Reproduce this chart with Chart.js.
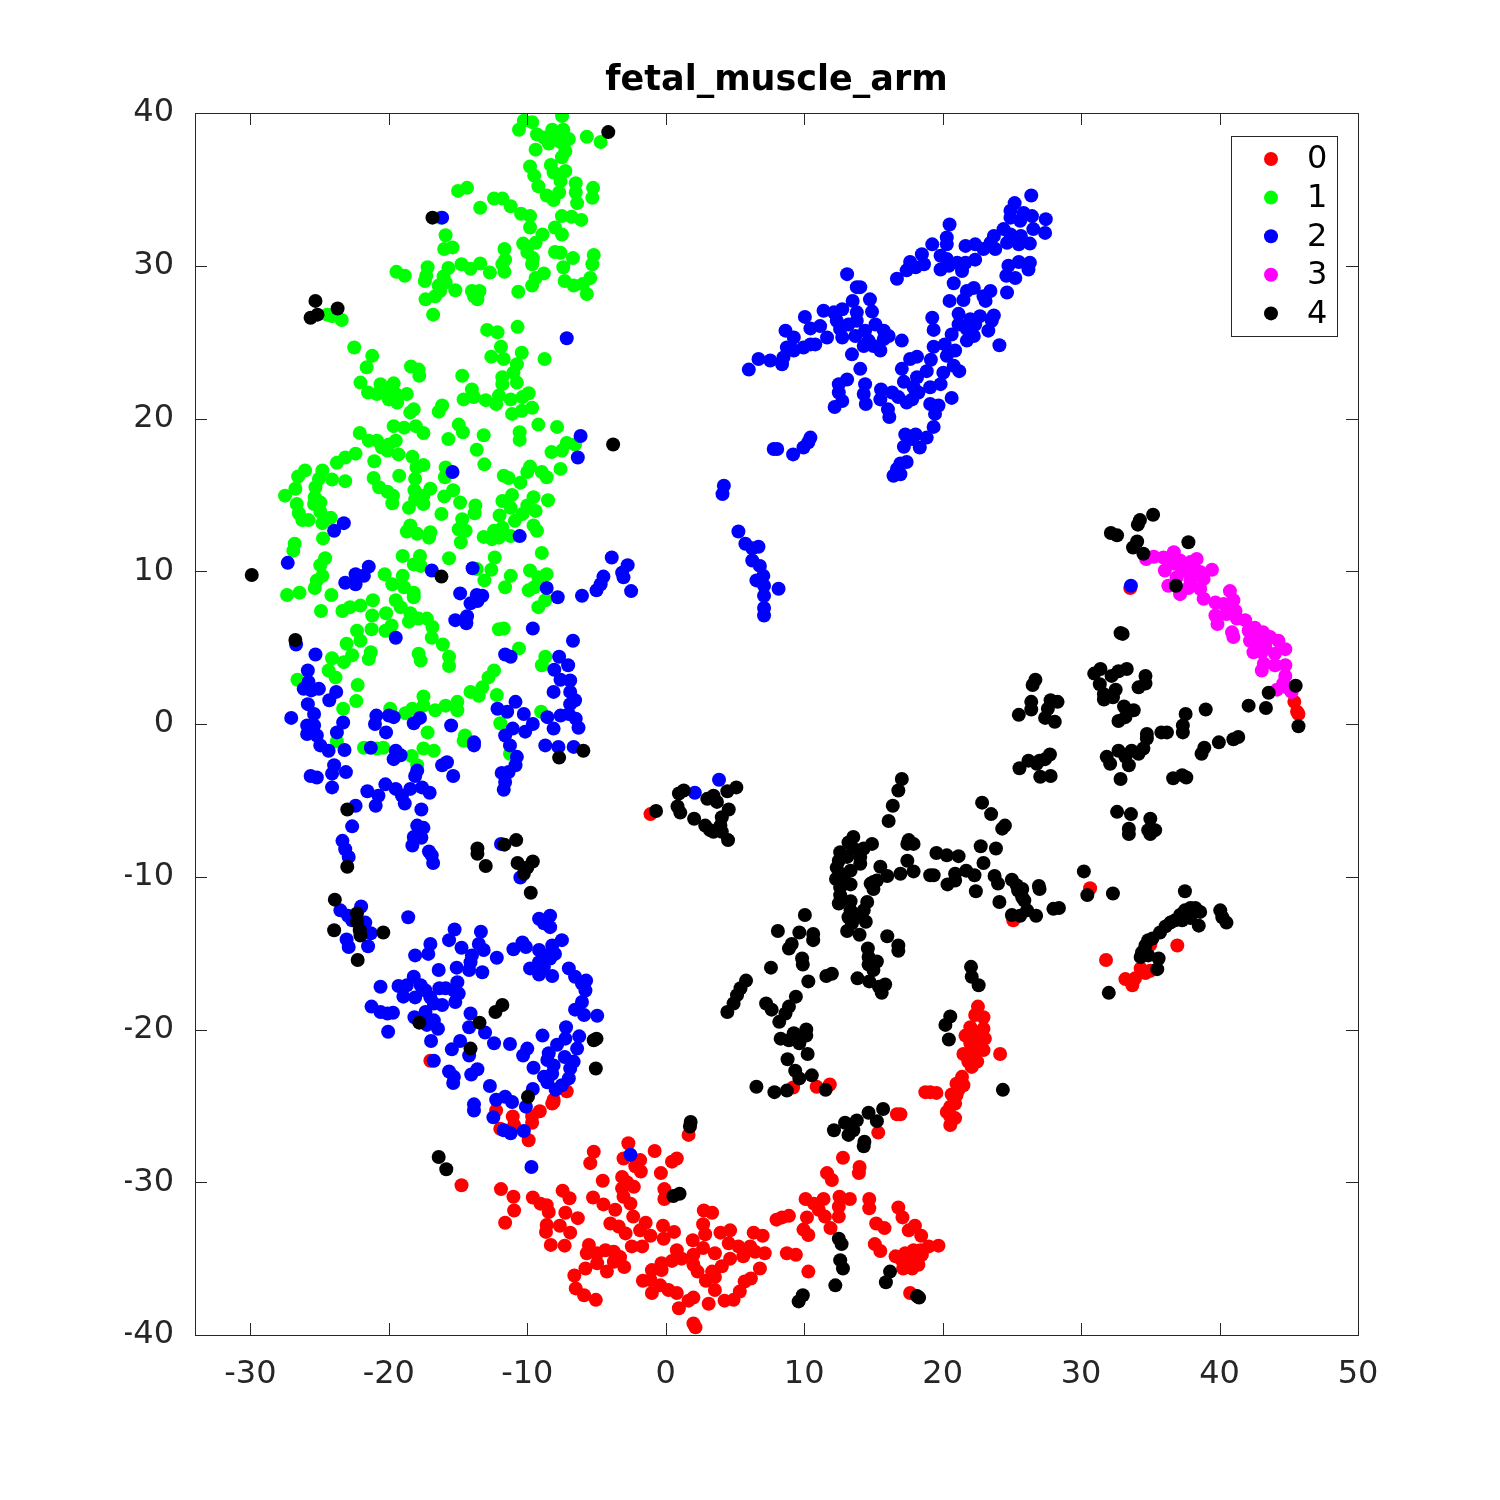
<!DOCTYPE html>
<html>
<head>
<meta charset="utf-8">
<title>fetal_muscle_arm</title>
<script src="https://cdn.jsdelivr.net/npm/chart.js@4/dist/chart.umd.min.js"></script>
<style>
  html, body { margin: 0; background: #fff; }
  #chart { display: block; }
</style>
</head>
<body>
<canvas id="chart" width="1500" height="1500"></canvas>
<script>
const chartTitle = 'fetal_muscle_arm';
const seriesNames = ['0', '1', '2', '3', '4'];
const seriesColors = ['#ff0000', '#00ff00', '#0000ff', '#ff00ff', '#000000'];
const xTicks = [-30, -20, -10, 0, 10, 20, 30, 40, 50];
const yTicks = [-40, -30, -20, -10, 0, 10, 20, 30, 40];

// values, [x, y]
const class0 = [
  [-1.1,-5.9],[33.55,8.9],[45.4,1.45],[45.6,0.8],[45.7,0.65],[9.2,-23.8],[10.9,-23.75],[11.85,-23.6],[25.1,-12.85],
  [22.55,-18.5],[22.35,-19.05],[22.95,-19.2],[22,-19.85],[22.95,-19.95],[21.65,-20.4],[22.35,-20.4],[23.05,-20.6],
  [22,-20.9],[22.6,-21.15],[22.95,-21.35],[21.5,-21.6],[22.25,-21.6],[24.15,-21.6],[21.85,-22.1],[22.5,-22.1],[22.1,-22.45],
  [21.4,-23.1],[21,-23.55],[21.5,-23.65],[21.15,-23.95],[18.75,-24.1],[19.55,-24.15],[19.1,-24.1],[20.65,-24.25],
  [16.95,-25.55],[16.7,-25.55],[15.35,-26.75],[20.55,-25.05],[20.55,-25.7],[20.3,-25.4],[20.9,-24.85],[20.55,-26.25],[20.9,-25.8],[21,-24.3],
  [30.65,-10.75],[31.8,-15.45],[33.2,-16.7],[33.7,-17.1],[33.9,-16.65],[34.65,-16.3],[35,-16.15],[34.3,-16],[35,-14.45],[36.95,-14.5],
  [-17,-22.05],[-7.15,-24.05],[-8.1,-24.6],[-8.2,-24.85],[-9.1,-25.35],[-9.65,-25.7],[-9.65,-26.1],[-11.05,-25.7],[-12.25,-25.3],
  [-11.95,-26.5],[-10.95,-26.25],[-9.9,-27.25],[-14.75,-30.2],[-8.1,-24.75],[1.65,-26.9],[-2.7,-27.45],[-5.2,-28],[-5.45,-28.75],
  [-3.05,-28.45],[-0.8,-27.95],[0.8,-28.45],[0.45,-28.65],[-1.85,-28.55],[-2.2,-28.95],[-1.8,-29.3],[-0.35,-29.4],[-4.55,-29.9],
  [-3.15,-29.65],[-2.8,-30],[-2.3,-30.3],[-3.15,-30.4],[-0.1,-30.45],[-0.1,-31.1],[-11.9,-30.45],[-11,-30.95],[-10.95,-31.85],
  [-11.6,-32.65],[-9.6,-31],[-9.05,-31.4],[-8.6,-31.5],[-8.45,-31.95],[-7.45,-30.55],[-6.95,-31.05],[-7.25,-32],[-6.35,-32.35],
  [-5.25,-31],[-4.5,-31.45],[-3.65,-31.8],[-3.05,-30.95],[-2.55,-31.4],[-2.35,-32.25],[-8.6,-32.8],[-8.65,-33.25],[-7.65,-32.85],
  [-6.9,-33.3],[-8.3,-34.1],[-7.3,-34.15],[-4,-32.7],[-3.4,-32.9],[-2.9,-33.35],[-1.45,-32.65],[-1.85,-33.15],[-1.1,-33.5],
  [-1.7,-34.2],[-2.45,-34.2],[-0.2,-32.85],[0.6,-33.25],[-0.15,-33.7],[1.95,-33.8],[2.75,-31.85],[3.35,-32],[2.7,-32.75],[2.85,-33.4],
  [3.95,-33.3],[4.65,-33.15],[6.35,-33.3],[7,-33.5],[2.7,-34.3],[4.55,-34],[5.25,-34.2],[6.1,-34.2],[3.55,-34.65],[6.45,-34.55],
  [7.15,-34.65],[5.6,-34.85],[4.65,-35],[-5.55,-34.1],[-5.7,-34.65],[-4.95,-34.65],[-4.35,-34.45],[-3.75,-34.55],[-3.3,-34.9],
  [-4.95,-35.3],[-4.25,-35.85],[-3.75,-35.2],[-3,-35.55],[-5.8,-35.65],[-6.6,-36.1],[-6.5,-36.95],[-5.9,-37.4],[-5.05,-37.7],
  [0.8,-34.45],[1.15,-35],[2,-34.75],[0.45,-35.15],[-0.3,-35.3],[2,-35.4],[2.3,-35.85],[-1,-35.75],[-0.3,-35.75],[-1.65,-36.45],
  [-1.1,-36.4],[-0.4,-36.75],[-1,-37.25],[0.2,-37.05],[0.8,-37.25],[0.95,-38.25],[1.65,-37.75],[2,-37.55],[3.55,-37.05],[2.9,-36.45],
  [3.55,-36.2],[4.05,-35.5],[3.35,-35.85],[3.1,-37.95],[4.25,-37.75],[4.9,-37.7],[5.35,-37.15],[5.7,-36.5],[6.15,-36.3],[6.8,-35.65],
  [10.3,-35.85],[8.75,-34.65],[9.4,-34.75],[8,-32.45],[8.9,-32.2],[8.4,-32.3],[10.1,-31.1],[10.7,-31.4],[11.4,-31.1],[11.05,-31.8],
  [10.2,-32.3],[11.5,-32.25],[9.95,-33.1],[10.3,-33.45],[11.9,-33],[12.5,-32.25],[12.55,-30.95],[13.3,-31.1],[12.5,-31.6],[11.65,-29.4],
  [12,-29.85],[12.8,-28.4],[14,-29],[13.95,-29.4],[14.7,-31.1],[14.7,-31.7],[15.2,-32.7],[15.8,-33],[15.1,-34.05],[15.5,-34.5],
  [16.8,-31.65],[17.1,-32.3],[18,-32.85],[17.55,-33.15],[18.45,-33.5],[19.7,-34.15],[19,-34.2],[18.4,-34.45],[17.9,-34.45],[17.3,-34.65],
  [16.6,-34.85],[17.05,-35.1],[17.9,-35],[18.5,-34.75],[17.15,-35.65],[17.8,-35.65],[18.25,-35.4],[17.65,-37.25],[2,-39.25],[2.15,-39.5]
];
const class1 = [
  [-7.49,39.8],[-10.25,39.5],[-9.65,39.4],[-10.6,38.9],[-8.2,38.9],[-7.4,38.9],[-7,38.3],[-9.3,38.6],[-8.8,38.4],[-8.1,38.4],[-7.6,38.1],
  [-9.4,37.6],[-8.45,38],[-5.7,38.45],[-4.7,38.1],[-7.5,37.1],[-7.25,37.5],[-9.8,36.5],[-8.3,36.6],[-7.25,36.2],[-8.1,36.1],[-9.5,35.9],
  [-9.2,35.2],[-7.6,35.55],[-6.5,35.4],[-5.25,35.1],[-5.3,34.45],[-6.5,34.8],[-6.4,34.1],[-7.7,34.8],[-8.6,34.6],[-8.1,34.3],[-15,34.9],
  [-14.35,35.1],[-13.4,33.8],[-12.4,34.4],[-11.8,34.4],[-11.2,33.9],[-10.45,33.4],[-9.8,33.25],[-9.8,32.5],[-8.9,32.05],[-9.4,31.5],
  [-10.3,31.45],[-10,30.9],[-7.5,33.25],[-6.8,33.2],[-6.1,33],[-8,32.5],[-7.5,32.05],[-16.3,33.15],[-15.9,32],[-15.4,31.2],[-16,31.1],
  [-11.65,31.1],[-8,30.9],[-7.6,30.85],[-5.2,30.7],[-6.7,30.5],[-11.6,30.4],[-11.8,30.1],[-9.6,30.5],[-9.65,30.1],[-5.3,30.1],[-7.4,29.9],
  [-19.45,29.6],[-18.85,29.35],[-17.2,29.9],[-17.3,29.35],[-17.4,29],[-15.7,29.85],[-14.75,30.1],[-14.1,29.8],[-13.4,30.15],[-12.7,29.55],
  [-11.65,29.6],[-8.8,29.5],[-9.4,29.2],[-5.45,29.2],[-7.3,29],[-6.65,28.7],[-6,28.8],[-9.65,28.7],[-10.65,28.3],[-5.7,28.15],[-16.05,29.3],
  [-15.9,28.9],[-16.4,28.7],[-15.2,28.4],[-16.3,28.35],[-16.65,28],[-17.35,27.8],[-14,28.35],[-13.45,28.35],[-13.85,28],[-13.6,27.8],[-16.8,26.8],
  [-23.4,26.45],[-24.45,26.8],[-24.1,26.7],[-22.5,24.65],[-10.7,26],[-12.9,25.8],[-12.15,25.65],[-11.9,24.7],[-10.4,24.3],[-8.75,23.9],
  [-12.6,24.05],[-11.7,23.9],[-21.2,24.1],[-21.6,23.35],[-18.4,23.4],[-17.85,23.2],[-17.8,22.8],[-14.7,22.8],[-10.75,23.55],[-11,23],
  [-11.8,22.7],[-11.8,22.25],[-10.75,22.35],[-22.05,22.35],[-20.6,22.25],[-19.65,22.3],[-14,21.9],[-9.9,21.65],[-21.5,21.7],[-20.85,21.6],
  [-20.1,21.8],[-20,21.25],[-19.4,21.05],[-19.5,21.6],[-18.7,21.6],[-14.6,21.25],[-13.85,21.4],[-13,21.2],[-12.25,20.95],[-12.05,21.5],
  [-11.2,21.25],[-10.35,21.4],[-9.65,20.7],[-10.4,20.5],[-11.1,20.3],[-16.15,20.85],[-16.4,20.45],[-18.2,20.6],[-18.45,20.4],
  [-22.1,19.05],[-21.45,18.55],[-20.85,18.55],[-20.5,18.1],[-20.1,17.9],[-19.5,18.55],[-20,18.3],[-19.65,19.5],[-18.9,19.4],[-18.05,19.5],
  [-17.5,19.05],[-14.95,19.6],[-14.65,19.1],[-15.7,18.65],[-13.15,18.9],[-13.65,17.95],[-13.1,17],[-10.55,19.1],[-10.55,18.6],[-9.2,19.6],
  [-7.85,19.45],[-19.3,17.65],[-18.3,17.5],[-17.5,16.95],[-18,16.8],[-22.4,17.7],[-23.15,17.45],[-23.75,17.1],[-21.05,17.2],[-26.05,16.6],
  [-26.55,16.2],[-26.75,15.4],[-27.5,14.95],[-24.8,16.6],[-25.05,16.05],[-24.1,16],[-23.15,15.9],[-25.3,15.5],[-25.35,14.85],[-25.4,14.4],
  [-24.95,14.5],[-26.65,14.4],[-26.5,13.8],[-26.25,13.35],[-25.8,13.35],[-24.95,13.9],[-24.2,13.5],[-24.8,13.15],[-24.75,12.15],[-21.1,16.1],
  [-20.7,15.5],[-20.1,15.2],[-19.7,14.95],[-19.75,14.45],[-19.25,16.25],[-18.1,16.05],[-18.15,15.3],[-17,15.4],[-17.5,14.95],[-18.1,14.7],
  [-18.55,14.15],[-17.5,14.4],[-15.9,16.8],[-15.95,16.15],[-15.35,15.3],[-16,14.9],[-14.85,14.5],[-13.75,14.3],[-13.8,13.8],[-16.2,13.75],
  [-14.7,13.4],[-14.95,12.75],[-14.45,12.65],[-14.8,11.9],[-18.45,13],[-18.7,12.6],[-17.95,12.45],[-17,12.55],[-17.1,12.2],[-11.7,16.25],
  [-11.35,16.1],[-9.8,16.85],[-10,16.5],[-10.5,15.8],[-8.95,16.5],[-8.6,16.15],[-7.6,16.7],[-8.25,17.8],[-7.5,17.9],[-7.15,18.4],[-6.55,18.3],
  [-11.1,15],[-11.8,14.6],[-11.2,14.15],[-12,13.65],[-9.55,14.85],[-8.5,14.65],[-10,14.3],[-9.4,13.95],[-10.35,13.75],[-10.9,13.3],[-9.55,13],
  [-9.3,12.65],[-11.8,12.85],[-12.4,12.65],[-13.15,12.25],[-12.55,12.1],[-12.05,12.2],[-11.2,12.3],[-26.8,11.8],[-26.9,11.35],[-24.6,10.85],
  [-24.95,10.4],[-24.8,9.7],[-25.2,9.4],[-25.35,8.9],[-27.35,8.45],[-26.45,8.6],[-24.15,8.45],[-24.9,7.4],[-19,11],[-17.75,11],[-18.2,10.45],
  [-17.7,10.35],[-15.65,10.85],[-12.35,10.9],[-12.6,10.1],[-13.65,10.15],[-13.1,9.4],[-11.2,9.7],[-11.6,8.95],[-8.95,11.2],[-9.8,10.05],
  [-8.6,9.8],[-9.2,9.6],[-9.5,8.95],[-9.9,8.75],[-8.7,8.1],[-9.2,7.65],[-20.3,9.8],[-19,9.7],[-19.75,9.15],[-18.9,8.95],[-18.2,8.6],[-18.2,8.3],
  [-19.5,8.1],[-19.15,7.65],[-21.15,8.1],[-22.05,7.75],[-22.8,7.65],[-23.35,7.4],[-21.2,7.1],[-20.2,7.25],[-18.45,7.25],[-18.55,6.7],[-17.85,6.9],
  [-17.25,6.9],[-16.85,6.35],[-19.8,6.45],[-20.25,6.1],[-21.25,6.2],[-22.3,6.1],[-22.05,5.45],[-23.05,5.25],[-16.9,5.65],[-16.1,5.2],[-21.3,4.7],
  [-21.45,4.25],[-17.85,4.6],[-17.7,4.15],[-15.65,4.4],[-15.65,3.8],[-22.65,4.5],[-23.25,4.05],[-24.1,4.3],[-24.35,3.5],[-23.85,3.05],[-26.6,2.9],
  [-22.25,2.55],[-22.35,1.5],[-23.3,1],[-11.7,6.25],[-12.05,6.2],[-10.6,4.95],[-8.7,4.4],[-8.95,3.85],[-12.4,3.5],[-12.8,3.05],[-13.25,2.4],
  [-14.1,2.1],[-13.5,1.85],[-12.2,1.9],[-17.5,1.8],[-15.05,1.45],[-15.05,0.9],[-15.9,1.2],[-16.65,0.9],[-17.5,1.2],[-18.3,1],[-18.8,0.7],[-19.9,1],
  [-11.95,0.05],[-9,0.8],[-17.2,-0.55],[-14.5,-0.75],[-23.75,-1.15],[-21.8,-1.55],[-20.85,-1.6],[-20.4,-1.55],[-18.35,-2.1],[-17.95,-2.7],
  [-17.5,-1.6],[-16.75,-1.75],[-14.6,-1.1],[-11.25,-1.95]
];
const class2 = [
  [-16.15,33.15],[-7.15,25.25],[-15.4,16.5],[-6.15,18.85],[-6.35,17.45],[-10.55,12.3],[-23.25,13.15],[-23.95,12.65],[-27.3,10.55],[-21.45,10.3],
  [-21.8,9.7],[-22.4,9.8],[-22.4,9.15],[-23.15,9.25],[-16.9,10.05],[-13.95,10.2],[-14.85,8.55],[-13.25,8.4],[-13.65,8.45],[-13.6,8.05],[-14.1,7.9],
  [-15.2,6.8],[-14.35,7.05],[-14.4,6.6],[-8.6,8.9],[-7.8,8.3],[-6.05,8.4],[-5,8.75],[-4.7,9.15],[-4.5,9.65],[-3.9,10.9],[-2.75,10.4],[-3.15,9.9],
  [-3.05,9.6],[-2.5,8.7],[-9.6,6.25],[-6.7,5.45],[-19.5,5.65],[-26.7,5.2],[-25.3,4.55],[-11.6,4.55],[-11.2,4.4],[-7.7,4.4],[-7.05,3.85],[-8.05,3.55],
  [-7.6,2.9],[-6.9,2.85],[-8.1,2.1],[-6.9,2.1],[-6.55,1.55],[-6.9,1.3],[-25.85,3.5],[-25.8,2.75],[-26.15,2.3],[-25.05,2.3],[-25.6,2.2],[-23.8,2.1],
  [-24.3,1.55],[-25.85,1.3],[-25.4,0.65],[-27.05,0.4],[-25.9,-0.1],[-25.4,-0.1],[-23.3,0.1],[-23.75,-0.55],[-25.9,-0.65],[-25.2,-0.75],[-20.9,0.55],
  [-21,0],[-20.2,-0.55],[-20,0.55],[-19.65,0.45],[-17.75,0.4],[-18.2,0.05],[-15.5,-0.1],[-10.85,1.45],[-12.15,1],[-11.45,0.8],[-10.25,0.65],
  [-11.05,-0.3],[-11.6,-0.75],[-9.6,0],[-10.15,-0.5],[-8.55,0.45],[-7.6,0.55],[-7,0.65],[-6.5,0.35],[-6.3,-0.25],[-8.1,-0.3],[-13.85,-1.2],
  [-24.95,-1.4],[-24.35,-1.75],[-23.2,-1.7],[-21.3,-1.55],[-19.5,-1.75],[-19.65,-2.3],[-19.15,-2.05],[-17.95,-3.05],[-18.1,-3.4],[-16.15,-2.7],
  [-15.8,-2.5],[-15.35,-3.4],[-13.85,-1.4],[-11.25,-1.4],[-10.75,-2.15],[-10.85,-2.7],[-11.85,-3.2],[-11.35,-3.15],[-11.6,-3.8],[-11.7,-4.3],
  [-8.7,-1.4],[-7.75,-1.5],[-6.65,-1.5],[-25.65,-3.4],[-25.2,-3.5],[-23.95,-2.7],[-23.1,-3.15],[-24.1,-3.25],[-24.1,-4.15],[-21.55,-4.4],
  [-20.75,-4.7],[-20.95,-5.35],[-22.4,-5.35],[-20.25,-3.95],[-19.5,-4.25],[-19.05,-4.7],[-18.85,-5.2],[-18.45,-4.25],[-17.6,-4.15],[-17.05,-4.5],
  [-17.65,-5.6],[-22.65,-6.7],[-23.35,-7.65],[-23.15,-8.2],[-22.9,-8.7],[-17.95,-6.65],[-17.5,-6.8],[-18.2,-7.4],[-17.65,-7.45],[-18.3,-7.95],
  [-17.1,-8.35],[-16.9,-8.6],[-16.8,-9.1],[-11.9,-7.85],[-10.5,-10.05],[-22,-11.95],[-23.5,-12.2],[-22.95,-12.55],[-22.65,-12.85],[-21.7,-13],
  [-21.3,-13.7],[-23.05,-14.1],[-22.9,-14.6],[-21.5,-14.55],[-18.6,-12.65],[-9.15,-12.75],[-8.35,-12.55],[-8.35,-13.3],[-8.8,-13.05],[-15.25,-13.45],
  [-13.35,-13.6],[-15.65,-14.15],[-17,-14.4],[-17.15,-15.05],[-18.1,-15.15],[-14.75,-14.65],[-13.5,-14.4],[-13.15,-14.8],[-14,-15.15],[-14.1,-15.6],
  [-12.2,-15.3],[-15.1,-15.95],[-16.4,-16.1],[-14.2,-16.1],[-13.25,-16.25],[-11,-14.75],[-10.35,-14.3],[-10.1,-14.6],[-9.15,-14.8],[-7.5,-14.15],
  [-8.2,-14.5],[-8,-15.05],[-8.7,-15.15],[-8.35,-15.35],[-9.15,-15.6],[-8.8,-15.9],[-9.8,-16],[-9.15,-16.4],[-8.2,-16.5],[-7,-16],[-6.55,-16.55],
  [-5.75,-16.8],[-6.05,-17],[-5.8,-17.45],[-6.05,-18.2],[-6.55,-18.7],[-5.9,-19.05],[-4.95,-19.1],[-20.6,-17.2],[-19.3,-17.15],[-18.95,-17.85],
  [-18.7,-17.1],[-18.2,-16.55],[-17.7,-17.1],[-18.1,-17.9],[-17.35,-17.45],[-17,-17.9],[-16.75,-18.3],[-16.15,-18.4],[-16.35,-17.3],[-15.9,-17.3],
  [-15.3,-17.45],[-15.05,-16.9],[-14.95,-17.65],[-15.2,-18.2],[-21.25,-18.5],[-20.6,-18.85],[-20.1,-18.95],[-19.7,-18.9],[-20.05,-20.15],[-18.15,-19.2],
  [-17.35,-18.85],[-16.75,-19.4],[-17.25,-19.7],[-16.45,-19.95],[-16.95,-20.75],[-14.1,-18.95],[-14.2,-19.85],[-13.05,-20.2],[-12.4,-20.9],[-11.25,-20.95],
  [-14.85,-20.75],[-15.45,-21.3],[-14.2,-21.7],[-10,-21.25],[-10.3,-21.7],[-8.9,-20.4],[-7.2,-19.85],[-7.25,-20.6],[-6.25,-20.45],[-7.85,-21],[-6.4,-21.25],
  [-8.45,-21.55],[-7.3,-21.8],[-8.55,-22],[-6.65,-22.1],[-8.1,-22.35],[-6.9,-22.55],[-9.55,-22.5],[-8.2,-22.9],[-8.8,-23.1],[-7,-23.2],[-8.55,-23.45],
  [-7.5,-23.65],[-7.95,-23.95],[-9.6,-23.9],[-16.75,-22.05],[-15.65,-22.75],[-15.3,-23.1],[-15.35,-23.5],[-13.6,-22.6],[-14.05,-22.95],[-12.7,-23.7],
  [-13.85,-24.9],[-13.85,-25.3],[-12.25,-24.6],[-11.6,-24.4],[-11.1,-24.75],[-10.1,-25.05],[-12.45,-25.75],[-11.7,-26.6],[-11.2,-26.8],[-10.25,-26.65],
  [-9.7,-29],[-2.55,-28.2],
  [26.4,34.6],[25.2,34.1],[24.9,33.6],[24.9,33.15],[25.85,33.45],[26.45,33.25],[27.45,33.05],[25.6,32.95],[26.55,32.4],[27.4,32.15],[24.4,32.4],[23.7,31.95],
  [24.9,32.05],[23.45,31.5],[23.8,31.1],[24.65,31.5],[25.65,31.95],[25.5,31.4],[26.3,31.45],[20.5,32.7],[20.3,31.85],[19.25,31.4],[20.3,31.4],[21.65,31.3],
  [22.35,31.4],[22.95,31.1],[22.35,30.4],[19.85,30.65],[20.3,30.45],[21.05,30.2],[21.65,30.2],[18.5,30.75],[17.65,30.25],[18.65,30.1],[18.05,29.9],[17.4,29.7],
  [19.85,29.75],[20.45,30],[21.4,29.65],[16.7,29.15],[20.8,28.85],[24.75,30],[25.5,30.25],[26.3,30.2],[26.2,29.75],[24.6,29.35],[25.25,29.2],[22.25,28.55],
  [21.75,28.35],[23.45,28.35],[22.95,28],[23.1,27.7],[21.5,27.75],[24.65,28.25],[20.5,27.7],[13.1,29.45],[14.05,28.6],[13.8,28.6],[13.5,27.7],[14.75,27.8],
  [14.9,27],[11.4,27.05],[12.15,26.95],[12.75,27.15],[10.05,26.65],[12.35,26.4],[13.8,26.95],[10.45,25.9],[11.15,26.05],[11.65,25.3],[12.6,25.85],[12.75,25.3],
  [13.2,26.15],[13.8,26.4],[13.7,25.4],[14.4,25.75],[15.15,26.15],[15.75,25.75],[16.1,25.4],[14.65,25.1],[14.3,24.75],[15,24.75],[15.5,24.45],[15.75,25.2],
  [17.05,25.1],[13.45,24.2],[8.65,25.75],[9.25,25.3],[10.8,24.85],[10.45,24.85],[9.95,24.65],[8.75,24.65],[9.25,24.45],[8.5,24],[8.4,23.55],[7.55,23.8],
  [6.7,23.9],[6,23.2],[14.05,23.25],[13.1,22.55],[12.5,22.25],[14.4,22.25],[12.5,21.7],[14.3,21.6],[12.75,21.15],[12.2,20.75],[14.45,20.95],[15.55,21.9],
  [16.35,21.7],[15.5,21.25],[16.8,21.4],[16.05,20.6],[16.15,20.1],[17.2,22.4],[17.4,21.05],[17.8,21.25],[17.9,22.05],[18.25,21.7],[18.15,22.7],[19.1,22.05],
  [19.85,22.25],[20.05,23],[18.85,23.1],[17.05,23.25],[17.65,23.9],[18.15,24.05],[19.15,23.85],[19.35,24.7],[20.15,24.85],[20.3,24.1],[20.9,24.45],[20.8,23.45],
  [21.2,23.1],[20.65,21.35],[19.1,20.95],[19.7,20.85],[19.45,20.3],[19.35,19.45],[17.3,18.95],[18.05,18.95],[18.85,18.75],[17.8,18.65],[17.2,18.15],[18.35,18.1],
  [17.4,17.15],[16.95,17.05],[16.7,16.7],[16.45,16.25],[16.95,16.35],[19.25,26.6],[19.35,25.8],[21.15,26.85],[20.65,25.5],[21.15,26.15],[22,26.5],[22.7,26.7],
  [23.7,26.75],[23.55,26.4],[21.75,25.85],[22.35,26.15],[23.3,25.75],[22.25,25.4],[21.75,25.1],[24.1,24.8],[10.45,18.75],[10.3,18.45],[9.95,18.1],[9.2,17.65],
  [7.8,18],[8.05,18],[4.2,15.6],[4.1,15.05],[5.25,12.6],[5.75,11.8],[6.25,11.5],[6.7,11.6],[6.25,10.7],[6.8,10.35],[7.05,9.7],[6.55,9.4],[7.1,9.05],[8.15,8.85],
  [7.1,8.4],[7.1,7.6],[7.1,7.1],[2.1,-4.5],[3.85,-3.65],[33.6,9.05]
];
const class3 = [
  [34.7,10.8],[35.25,10.95],[35.95,10.9],[36.7,11.25],[36.05,10.05],[36.7,10.5],[37.15,10.7],[38.35,10.8],[37.9,10.6],[37.3,10.05],[36.9,9.6],[38.1,10.15],
  [38.6,9.95],[39.45,10.1],[38.85,9.5],[37.9,9.4],[36.3,9.05],[37.15,8.5],[37.75,8.9],[38.6,8.85],[38.85,8.2],[39.7,7.95],[40.75,8.7],[41,8.1],[40.3,7.85],
  [39.7,7.1],[39.85,6.55],[40.5,7.2],[41.15,7.4],[41.25,6.9],[41.85,6.8],[40.9,6],[41,5.7],[42.1,6.1],[42.55,6.3],[43.15,6],[42.45,5.7],[42.2,5.45],[42.8,5.35],
  [43.3,5.1],[44.25,5.45],[43.65,5.7],[44.75,4.9],[42.45,4.7],[43.05,4.7],[44,4.6],[43.2,3.95],[43.05,3.5],[44,3.85],[44.75,3.85],[44.75,3.15],[44.6,2.65],
  [44.15,2.25],[45.2,2.1],[44.85,2.4]
];
const class4 = [
  [-4.15,38.75],[-16.85,33.15],[-25.3,27.7],[-23.7,27.2],[-25.65,26.6],[-25.15,26.8],[-3.8,18.3],[-16.2,9.65],[-26.75,5.5],[-29.9,9.75],[-5.95,-1.75],[-7.7,-2.2],
  [-23,-5.6],[-23,-9.35],[-10.8,-7.6],[-11.65,-7.9],[-13.6,-8.15],[-13.6,-8.5],[-13,-9.3],[-10.7,-9.1],[-9.6,-9],[-10,-9.4],[-10.25,-9.8],[-9.75,-11.05],
  [-23.9,-11.5],[-22.3,-12.4],[-22.3,-12.95],[-22.1,-13.5],[-22.05,-13.85],[-23.95,-13.5],[-20.4,-13.65],[-22.25,-15.45],[-11.8,-18.4],[-12.3,-18.85],
  [-13.45,-19.55],[-17.8,-19.55],[-14.1,-21.25],[-5,-20.6],[-5.2,-20.7],[-5.05,-22.55],[-9.95,-24.4],[-16.4,-28.35],[-15.85,-29.15],
  [1.8,-26.05],[1.75,-26.35],[15.7,-25.2],[14.65,-25.45],[15.25,-26],[13.8,-25.95],[12.95,-26.1],[12.15,-26.6],[13.2,-26.9],[13.55,-26.6],[14.3,-27.65],[14.35,-27.35],
  [0.55,-30.9],[1,-30.75],[12.5,-33.7],[12.7,-34.05],[12.6,-35.1],[12.8,-35.65],[12.25,-36.75],[16.2,-35.85],[15.9,-36.55],[9.9,-37.4],[9.6,-37.8],[18.15,-37.45],[18.3,-37.55],
  [-0.7,-5.7],[0.95,-4.55],[1.3,-4.35],[0.85,-5.4],[1.05,-5.8],[2.05,-6.2],[2.85,-6.65],[3.2,-6.95],
  [5.1,-4.15],[4.45,-4.4],[3.45,-4.7],[3,-4.9],[3.7,-5.1],[4.55,-5.6],[4.05,-6.1],[3.95,-6.65],[3.45,-7.05],[4.05,-7.05],[4.5,-7.6],
  [17.05,-3.6],[16.8,-4.35],[16.4,-5.35],[16.1,-6.35],[22.85,-5.15],[23.5,-5.9],[24.5,-6.65],[24.3,-6.85],[14.9,-7.85],[13.55,-7.4],[13.2,-7.75],[14.3,-8.15],[13.55,-8.15],
  [12.6,-8.4],[14.05,-8.7],[13.1,-8.7],[12.5,-8.95],[14.05,-9.15],[12.35,-9.4],[13.35,-9.6],[12.85,-9.9],[12.3,-10.15],[13.35,-10.5],[12.6,-10.7],[12.6,-11.2],[12.5,-11.75],
  [13.35,-11.6],[17.55,-7.6],[17.9,-7.85],[17.45,-7.85],[17.45,-8.95],[17.9,-9.65],[16.95,-9.8],[16,-9.95],[15.5,-9.35],[19.1,-9.9],[19.35,-9.9],[19.55,-8.45],[20.3,-8.6],
  [21.15,-8.65],[22.75,-8],[23.85,-8.15],[22.95,-9.1],[21.7,-9.6],[20.9,-9.8],[22.3,-9.9],[20.9,-10.25],[20.35,-10.5],[22.4,-10.95],[23.75,-9.95],[24,-10.45],[24.1,-11.65],
  [25,-10.2],[25.35,-10.55],[25.75,-10.8],[25.75,-11.35],[26.95,-10.6],[25,-12.5],[25.6,-12.55],[26.1,-12.2],[26.75,-12.55],[28,-12.1],[28.4,-12.05],[15,-10.35],[15.25,-10.25],
  [14.8,-10.45],[15,-10.8],[14.55,-11.65],[14.3,-12.2],[13.35,-12.2],[13.2,-12.65],[13.8,-12.55],[14.45,-12.95],[13.45,-13.05],[13.1,-13.55],[14,-13.8],[16,-13.9],[16.8,-14.5],
  [16.8,-14.85],[14.6,-14.7],[14.65,-15.25],[15.25,-15.55],[14.65,-15.75],[15,-16.1],[13.85,-16.65],[14.7,-16.85],[15.85,-17.05],[15.4,-17.2],[15.6,-17.6],[10.05,-12.5],
  [8.1,-13.55],[9.65,-13.65],[10.65,-13.75],[10.65,-14.15],[9.1,-14.4],[8.9,-14.7],[9.85,-15.35],[9.9,-15.75],[7.6,-15.95],[10.3,-16.85],[12,-16.35],[11.6,-16.5],[5.8,-16.8],
  [5.4,-17.3],[5.15,-17.75],[4.9,-18.3],[4.45,-18.85],[9.4,-17.85],[7.25,-18.3],[7.65,-18.7],[8.9,-18.5],[8.65,-18.95],[8.2,-19.5],[10.15,-20],[9.25,-20.25],[10.15,-20.4],
  [8.3,-20.6],[8.9,-20.7],[9.65,-20.9],[10.25,-21.6],[8.8,-21.95],[9.35,-22.7],[9.65,-23.2],[10.55,-23],[6.55,-23.75],[7.85,-24.1],[8.75,-24],[11.55,-23.95],[22.05,-15.9],
  [22.1,-16.55],[22.6,-17.1],[20.55,-19.15],[20.2,-19.7],[20.45,-20.65],[24.35,-23.95],
  [35.2,13.7],[34.25,13.35],[34.1,13.05],[32.15,12.5],[32.6,12.35],[37.75,11.9],[34.05,11.95],[33.75,11.55],[34.5,11.15],[36.85,9.05],[32.85,5.95],[33,5.9],[31.4,3.6],[30.95,3.3],
  [33.3,3.6],[32.7,3.45],[32.2,3.15],[34.65,3.15],[34.65,2.65],[34.15,2.4],[31.35,2.6],[32.5,2.25],[31.65,1.95],[32.3,1.75],[31.65,1.6],[33.1,1.15],[33.8,0.9],[33.2,0.45],[32.7,0.2],
  [26.7,2.9],[26.5,2.55],[26.4,1.45],[27.8,1.55],[28.3,1.45],[26.4,0.95],[25.5,0.6],[27.6,1],[27.4,0.4],[28.1,0.15],[39,0.95],[37.55,0.65],[37.35,-0.1],[37.35,-0.55],[43.55,2.05],
  [45.5,2.5],[42.1,1.2],[43.35,1.05],[45.7,-0.15],[34.75,-0.65],[34.75,-0.95],[35.8,-0.55],[36.2,-0.55],[34.5,-1.6],[34.15,-1.95],[33.65,-1.75],[32.7,-1.75],[33.2,-2.15],[31.85,-2.15],
  [32.1,-2.6],[33.45,-2.7],[32.85,-3.6],[38.9,-1.55],[38.7,-1.95],[39.95,-1.2],[41,-1],[41.35,-0.85],[27.75,-2],[27.4,-2.3],[27,-2.4],[26.2,-2.4],[26.8,-2.6],[25.55,-2.9],[27.05,-3.45],
  [27.8,-3.4],[36.65,-3.55],[37.3,-3.35],[37.6,-3.5],[32.6,-5.75],[33.6,-5.9],[35,-6.2],[33.45,-6.85],[33.45,-7.2],[34.85,-6.95],[35.35,-6.95],[35,-7.2],
  [30.2,-9.65],[30.45,-11.2],[32.3,-11.1],[27,-10.8],[25.45,-10.9],[25.9,-11.55],[37.5,-10.95],[37.9,-12.05],[37.5,-12.2],[37.15,-12.5],[36.8,-12.85],[36.45,-13],[36.1,-13.25],
  [35.7,-13.65],[35.15,-14.05],[34.65,-14.5],[34.85,-14.15],[34.4,-14.95],[34.3,-15.25],[34.85,-15.15],[35.6,-15.35],[35.5,-16.05],[38.25,-12.05],[37.9,-12.7],[37.3,-12.85],[38.6,-12.3],
  [40.05,-12.2],[40.2,-12.65],[40.5,-13],[38.5,-13.2],[32,-17.6]
];

const seriesValues = [class0, class1, class2, class3, class4];
const inkColor = '#262626';

// Octave style frame: box all around, ticks pointing inward
const frameAndLegend = {
  id: 'frameAndLegend',
  afterDatasetsDraw(chart) {
    const { ctx, chartArea: a, scales } = chart;
    const tickLen = 12;
    ctx.save();
    ctx.strokeStyle = inkColor;
    ctx.lineWidth = 1;
    ctx.strokeRect(a.left + 0.5, a.top + 0.5, a.right - a.left, a.bottom - a.top);
    ctx.beginPath();
    scales.x.ticks.forEach((t, i) => {
      const px = Math.round(scales.x.getPixelForTick(i)) + 0.5;
      ctx.moveTo(px, a.top); ctx.lineTo(px, a.top + tickLen);
      ctx.moveTo(px, a.bottom); ctx.lineTo(px, a.bottom - tickLen);
    });
    scales.y.ticks.forEach((t, i) => {
      const py = Math.round(scales.y.getPixelForTick(i)) + 0.5;
      ctx.moveTo(a.left, py); ctx.lineTo(a.left + tickLen, py);
      ctx.moveTo(a.right, py); ctx.lineTo(a.right - tickLen, py);
    });
    ctx.stroke();

    // legend box, upper right inside the axes
    const boxW = 106, boxH = 200;
    const boxX = a.right - 127, boxY = a.top + 23;
    ctx.fillStyle = '#fff';
    ctx.fillRect(boxX, boxY, boxW, boxH);
    ctx.strokeRect(boxX + 0.5, boxY + 0.5, boxW, boxH);
    ctx.font = '32px "DejaVu Sans"';
    ctx.textBaseline = 'middle';
    seriesNames.forEach((name, i) => {
      const rowY = boxY + 23 + i * 38.6;
      ctx.fillStyle = seriesColors[i];
      ctx.beginPath();
      ctx.arc(boxX + 40, rowY, 7, 0, Math.PI * 2);
      ctx.fill();
      ctx.fillStyle = '#000';
      ctx.fillText(name, boxX + 76, rowY + 1);
    });
    ctx.restore();
  }
};

new Chart(document.getElementById('chart').getContext('2d'), {
  type: 'scatter',
  data: {
    datasets: seriesNames.map((name, i) => ({
      label: name,
      data: seriesValues[i].map(p => ({ x: p[0], y: p[1] })),
      backgroundColor: seriesColors[i],
      pointRadius: 7,
      pointBorderWidth: 0,
      order: seriesNames.length - i,
    }))
  },
  plugins: [frameAndLegend],
  options: {
    responsive: false,
    animation: false,
    layout: { padding: { left: 125, right: 142, top: 0, bottom: 100 } },
    plugins: {
      legend: { display: false },
      tooltip: { enabled: false },
      title: {
        display: true,
        text: chartTitle,
        color: '#000',
        fullSize: false,
        font: { family: '"DejaVu Sans"', size: 35, weight: 'bold' },
        padding: { top: 60, bottom: 11 },
      },
    },
    scales: {
      x: {
        type: 'linear',
        min: -34,
        max: 50,
        grid: { display: false },
        border: { display: false },
        afterBuildTicks: s => { s.ticks = xTicks.map(v => ({ value: v })); },
        afterFit: s => { s.height = 65; },
        ticks: {
          color: inkColor,
          padding: 12,
          maxRotation: 0,
          font: { family: '"DejaVu Sans"', size: 32 },
        },
      },
      y: {
        type: 'linear',
        min: -40,
        max: 40,
        grid: { display: false },
        border: { display: false },
        afterBuildTicks: s => { s.ticks = yTicks.map(v => ({ value: v })); },
        afterFit: s => { s.width = 70; },
        ticks: {
          color: inkColor,
          padding: 13,
          font: { family: '"DejaVu Sans"', size: 32 },
        },
      },
    },
  },
});
</script>
</body>
</html>
